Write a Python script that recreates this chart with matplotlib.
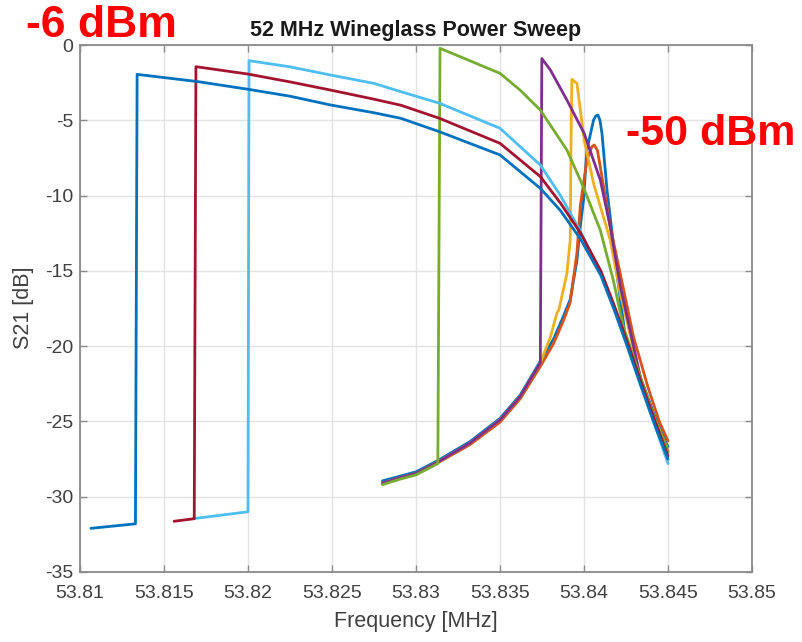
import matplotlib
matplotlib.use("Agg")
import matplotlib.pyplot as plt

# sweep data (frequency in MHz, S21 in dB)
# order: lowest drive power first (-50 dBm) ... highest last (-6 dBm)
f_p1 = [53.8280, 53.8290, 53.8300, 53.8313, 53.8332, 53.8350, 53.8362, 53.8374, 53.8382,
        53.83878, 53.83918, 53.83958, 53.83978, 53.83997, 53.84017, 53.84057, 53.84070,
        53.84083, 53.84095, 53.84107, 53.84137, 53.84196, 53.84245, 53.8434, 53.8442, 53.8450]
s_p1 = [-28.95, -28.65, -28.35, -27.6, -26.35, -24.8, -23.25, -21.0, -19.5,
        -18.0, -16.9, -14.3, -12.06, -10.3, -6.97, -4.98, -4.72,
        -4.65, -5.0, -5.87, -9.63, -15.2, -19.3, -22.2, -24.6, -26.7]

f_p2 = [53.8280, 53.8290, 53.8300, 53.8313, 53.8332, 53.8350, 53.8362, 53.8374, 53.8382,
        53.83878, 53.83918, 53.83958, 53.83978, 53.84017, 53.84047, 53.84061, 53.84080,
        53.84097, 53.84156, 53.84216, 53.84295, 53.8438, 53.84448, 53.8450]
s_p2 = [-29.15, -28.8, -28.5, -27.75, -26.55, -25.05, -23.5, -21.35, -19.8,
        -18.3, -17.1, -13.8, -10.7, -7.64, -6.75, -6.64, -7.0,
        -8.1, -12.06, -15.2, -19.4, -22.7, -25.0, -26.3]

f_p3 = [53.8280, 53.8290, 53.8300, 53.8313, 53.8332, 53.8350, 53.8362, 53.8374, 53.8380,
        53.83839, 53.83850, 53.83898, 53.83918, 53.83923, 53.83928, 53.83958, 53.84001,
        53.84057, 53.84156, 53.84216, 53.8434, 53.8442, 53.8450]
s_p3 = [-29.1, -28.75, -28.45, -27.7, -26.45, -24.9, -23.35, -21.1, -19.4,
        -17.8, -17.6, -15.2, -12.95, -6.3, -2.28, -2.55, -6.31,
        -9.2, -12.95, -16.5, -22.3, -24.8, -26.9]

f_p4 = [53.8280, 53.8290, 53.8300, 53.8313, 53.8332, 53.8350, 53.8362, 53.8374, 53.83749,
        53.8380, 53.83898, 53.84001, 53.84097, 53.84156, 53.84216, 53.8434, 53.8442, 53.8450]
s_p4 = [-29.1, -28.75, -28.45, -27.7, -26.45, -24.9, -23.35, -21.1, -0.9,
        -1.66, -3.65, -5.87, -8.96, -12.06, -16.0, -22.3, -24.9, -27.0]

f_p5 = [53.8280, 53.8290, 53.8300, 53.8313, 53.83143, 53.8330, 53.8350, 53.8362, 53.8374,
        53.83898, 53.83995, 53.84097, 53.84174, 53.84234, 53.8434, 53.8442, 53.8450]
s_p5 = [-29.2, -28.85, -28.55, -27.8, -0.22, -0.95, -1.88, -3.0, -4.32,
        -6.97, -9.4, -12.3, -15.6, -18.7, -22.2, -24.8, -27.0]

f_p6 = [53.8168, 53.8200, 53.82006, 53.8225, 53.8249, 53.8275, 53.8291, 53.8314, 53.8350,
        53.8374, 53.8386, 53.8398, 53.8410, 53.8418, 53.8426, 53.8434, 53.8442, 53.8450]
s_p6 = [-31.45, -31.0, -1.04, -1.45, -1.99, -2.55, -3.1, -3.87, -5.53,
        -7.97, -10.0, -12.4, -15.2, -17.5, -20.0, -22.6, -25.2, -27.8]

f_p7 = [53.8156, 53.8168, 53.8169, 53.8200, 53.8225, 53.8249, 53.8275, 53.8291, 53.8314,
        53.8350, 53.8374, 53.8386, 53.8398, 53.8410, 53.8418, 53.8426, 53.8434, 53.8442,
        53.8450]
s_p7 = [-31.63, -31.46, -1.44, -1.93, -2.45, -2.99, -3.6, -4.0, -4.87,
        -6.53, -8.74, -10.5, -12.5, -15.0, -17.3, -19.8, -22.4, -24.9,
        -27.3]

f_p8 = [53.81065, 53.8133, 53.8134, 53.8170, 53.8200, 53.8225, 53.8249, 53.8275, 53.8291,
        53.8314, 53.8350, 53.8374, 53.8386, 53.8398, 53.8410, 53.8418, 53.8426, 53.8434,
        53.8442, 53.8450]
s_p8 = [-32.1, -31.8, -1.95, -2.43, -2.94, -3.4, -3.98, -4.5, -4.87,
        -5.76, -7.30, -9.52, -11.0, -12.9, -15.3, -17.6, -20.1, -22.7,
        -25.2, -27.5]

# MATLAB default colour order
colors = ['#0072BD', '#D95319', '#EDB120', '#7E2F8E', '#77AC30', '#4DBEEE', '#A2142F', '#0072BD']

x_ticks = [53.81, 53.815, 53.82, 53.825, 53.83, 53.835, 53.84, 53.845, 53.85]
x_labels = ['53.81', '53.815', '53.82', '53.825', '53.83', '53.835', '53.84', '53.845', '53.85']
y_ticks = [-35, -30, -25, -20, -15, -10, -5, 0]

plt.rcParams['font.family'] = ['Liberation Sans', 'DejaVu Sans']
plt.rcParams['axes.unicode_minus'] = False

W, H = 803, 642
fig = plt.figure(figsize=(W / 100, H / 100), dpi=100)
ax = fig.add_axes([80 / W, 1 - 572 / H, 672 / W, 527 / H])

sweeps = [(f_p1, s_p1), (f_p2, s_p2), (f_p3, s_p3), (f_p4, s_p4),
          (f_p5, s_p5), (f_p6, s_p6), (f_p7, s_p7), (f_p8, s_p8)]
for (f, s), c in zip(sweeps, colors):
    ax.plot(f, s, color=c, linewidth=2.0, solid_joinstyle='round', solid_capstyle='round')

ax.set_xlim(53.81, 53.85)
ax.set_ylim(-35, 0)
ax.set_xticks(x_ticks)
ax.set_xticklabels(x_labels)
ax.set_yticks(y_ticks)
ax.grid(True, color='#e3e3e3', linewidth=1.0)
ax.set_axisbelow(True)

for sp in ax.spines.values():
    sp.set_color('#8a8a8a')
    sp.set_linewidth(1.3)
ax.tick_params(direction='in', length=5, width=1.0, color='#8a8a8a',
               top=True, right=True, labelsize=14, labelcolor='#404040')
ax.tick_params(axis='x', pad=9)
ax.tick_params(axis='y', pad=5)

fig.text(416 / W, 1 - 36 / H, '52 MHz Wineglass Power Sweep', ha='center', va='baseline',
         fontsize=15.5, fontweight='bold', color='#1a1a1a')
fig.text(416 / W, 1 - 622 / H, 'Frequency [MHz]', ha='center', va='center',
         fontsize=15.5, color='#404040')
fig.text(24 / W, 1 - 308 / H, 'S21 [dB]', ha='center', va='center', rotation=90,
         fontsize=15.5, color='#404040')

# power annotations
fig.text(26 / W, 1 - 37 / H, '-6 dBm', ha='left', va='baseline',
         fontsize=32, fontweight='bold', color='red')
fig.text(626 / W, 1 - 145 / H, '-50 dBm', ha='left', va='baseline',
         fontsize=31, fontweight='bold', color='red')

fig.savefig('out.png', dpi=100)
